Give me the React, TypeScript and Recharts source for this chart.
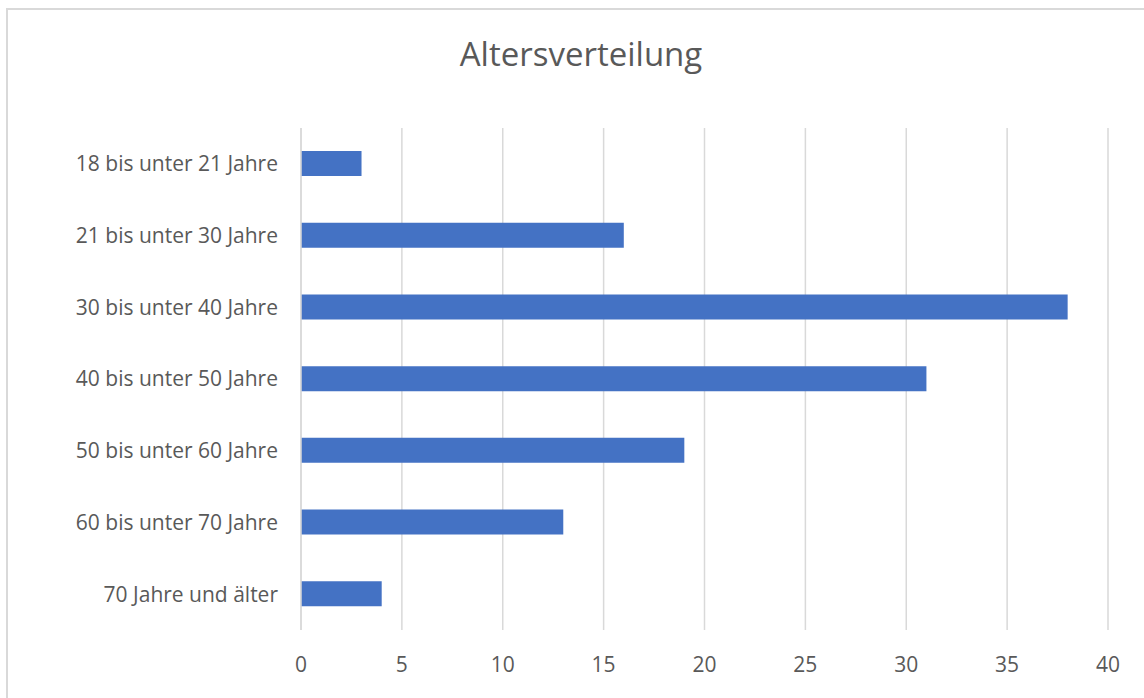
import { BarChart, Bar, XAxis, YAxis, CartesianGrid } from "recharts";

const AGE_GROUPS = [
  "18 bis unter 21 Jahre",
  "21 bis unter 30 Jahre",
  "30 bis unter 40 Jahre",
  "40 bis unter 50 Jahre",
  "50 bis unter 60 Jahre",
  "60 bis unter 70 Jahre",
  "70 Jahre und älter",
];

const COUNTS = [3, 16, 38, 31, 19, 13, 4];

const X_TICKS = [0, 5, 10, 15, 20, 25, 30, 35, 40];

const FONT = "'Open Sans', Lato, sans-serif";
const TEXT_COLOR = "#595959";
const GRID_COLOR = "#d9d9d9";
const BAR_COLOR = "#4472c4";

export default function App() {
  const data = AGE_GROUPS.map((group, i) => ({ group, count: COUNTS[i] }));

  return (
    <div
      style={{
        position: "absolute",
        left: 0,
        top: 0,
        width: 1144,
        height: 698,
        background: "#fff",
        overflow: "hidden",
        fontFamily: FONT,
      }}
    >
      {/* chart frame, only top and left edges fall inside the view */}
      <div
        style={{
          position: "absolute",
          left: 6,
          top: 8,
          width: 1200,
          height: 800,
          borderTop: `2px solid ${GRID_COLOR}`,
          borderLeft: `2px solid ${GRID_COLOR}`,
        }}
      />
      <div
        style={{
          position: "absolute",
          left: 0,
          width: 1162,
          top: 33,
          textAlign: "center",
          fontSize: 33,
          color: TEXT_COLOR,
          lineHeight: "42px",
        }}
      >
        Altersverteilung
      </div>
      <div style={{ position: "absolute", left: 0, top: 0 }}>
        <BarChart
          layout="vertical"
          width={1144}
          height={698}
          data={data}
          margin={{ top: 128, right: 36, bottom: 0, left: 0 }}
          barSize={25}
        >
          <CartesianGrid horizontal={false} stroke={GRID_COLOR} strokeWidth={1.5} />
          <XAxis
            type="number"
            domain={[0, 40]}
            ticks={X_TICKS}
            axisLine={false}
            tickLine={false}
            height={68}
            tickMargin={21}
            tick={{ fill: TEXT_COLOR, fontSize: 21, fontFamily: FONT }}
          />
          <YAxis
            type="category"
            dataKey="group"
            width={301}
            axisLine={{ stroke: GRID_COLOR, strokeWidth: 1.5 }}
            tickLine={false}
            tickMargin={17}
            tick={{ fill: TEXT_COLOR, fontSize: 21, fontFamily: FONT }}
          />
          <Bar dataKey="count" fill={BAR_COLOR} isAnimationActive={false} />
        </BarChart>
      </div>
    </div>
  );
}
